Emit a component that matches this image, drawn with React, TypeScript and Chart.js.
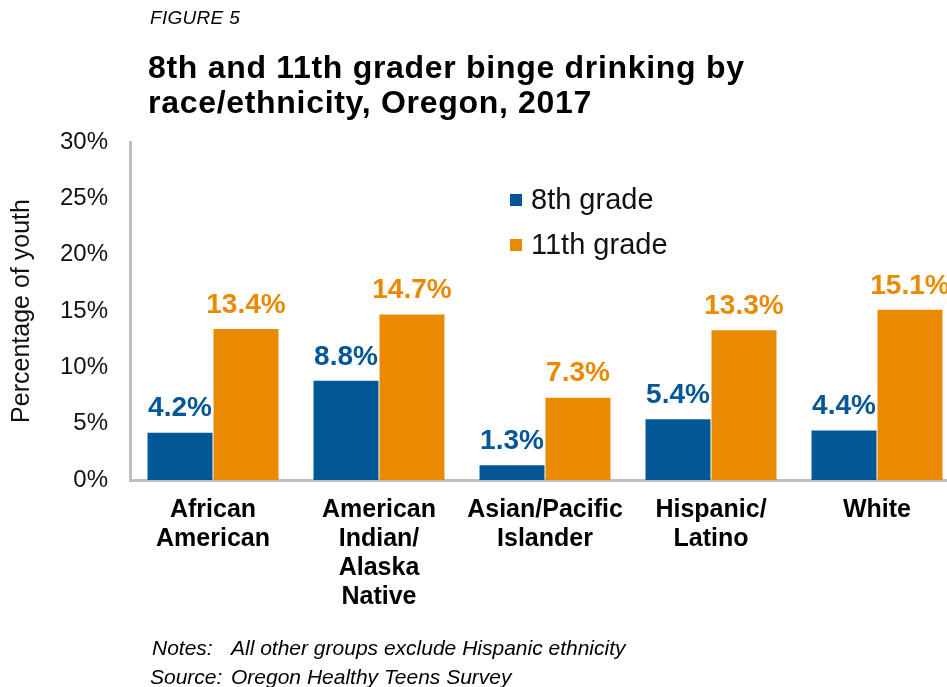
import React, { useEffect, useRef } from "react";
import { Chart, registerables } from "chart.js";

Chart.register(...registerables);

const categories: string[][] = [
  ["African", "American"],
  ["American", "Indian/", "Alaska", "Native"],
  ["Asian/Pacific", "Islander"],
  ["Hispanic/", "Latino"],
  ["White"],
];
const grade8: number[] = [4.2, 8.8, 1.3, 5.4, 4.4];
const grade11: number[] = [13.4, 14.7, 7.3, 13.3, 15.1];
const seriesNames: string[] = ["8th grade", "11th grade"];
const yTicks: number[] = [0, 5, 10, 15, 20, 25, 30];

const BLUE = "#035796";
const ORANGE = "#EA8A03";
const FONT = "'Liberation Sans', Arial, sans-serif";

const dataLabelPlugin = {
  id: "dataLabels",
  afterDatasetsDraw(chart: any) {
    const ctx = chart.ctx;
    ctx.save();
    ctx.font = `bold 28px ${FONT}`;
    ctx.textAlign = "center";
    ctx.textBaseline = "bottom";
    chart.data.datasets.forEach((ds: any, i: number) => {
      const meta = chart.getDatasetMeta(i);
      ctx.fillStyle = ds.backgroundColor;
      meta.data.forEach((el: any, j: number) => {
        ctx.fillText(ds.data[j].toFixed(1) + "%", el.x, el.y - 10);
      });
    });
    ctx.restore();
  },
};

const legendPlugin = {
  id: "customLegend",
  afterDraw(chart: any) {
    const ctx = chart.ctx;
    const area = chart.chartArea;
    ctx.save();
    ctx.font = `29px ${FONT}`;
    ctx.textBaseline = "middle";
    ctx.textAlign = "left";
    chart.data.datasets.forEach((ds: any, i: number) => {
      const x = area.left + 380;
      const y = area.top + 58 + i * 45;
      ctx.fillStyle = ds.backgroundColor;
      ctx.fillRect(x, y - 6, 12, 12);
      ctx.fillStyle = "#111";
      ctx.fillText(ds.label, x + 21, y + 1);
    });
    ctx.restore();
  },
};

export default function App() {
  const ref = useRef<HTMLCanvasElement>(null);
  useEffect(() => {
    if (!ref.current) return;
    const chart = new Chart(ref.current, {
      type: "bar",
      data: {
        labels: categories,
        datasets: [
          { label: seriesNames[0], data: grade8, backgroundColor: BLUE },
          { label: seriesNames[1], data: grade11, backgroundColor: ORANGE },
        ],
      },
      options: {
        responsive: false,
        animation: false,
        devicePixelRatio: 1,
        layout: { padding: { top: 142, right: 20, left: 0, bottom: 0 } },
        datasets: {
          bar: { categoryPercentage: 0.795, barPercentage: 0.985 },
        } as any,
        plugins: {
          legend: { display: false },
          tooltip: { enabled: false },
        },
        scales: {
          x: {
            grid: { display: false, drawTicks: false },
            border: { display: true, color: "#BFBFBF", width: 3 },
            ticks: {
              color: "#000",
              font: { family: FONT, size: 25, weight: "bold", lineHeight: "29px" } as any,
              padding: 16,
              maxRotation: 0,
              autoSkip: false,
            },
            afterFit: (s: any) => {
              s.height = 207;
            },
          },
          y: {
            min: 0,
            max: 30,
            afterBuildTicks: (s: any) => {
              s.ticks = yTicks.map((v) => ({ value: v }));
            },
            grid: { display: false, drawTicks: false },
            border: { display: true, color: "#BFBFBF", width: 3 },
            ticks: {
              color: "#111",
              font: { family: FONT, size: 24 },
              padding: 22,
              callback: (v: any) => v + "%",
            },
            title: {
              display: true,
              text: "Percentage of youth",
              color: "#111",
              font: { family: FONT, size: 25 },
              padding: { top: 7, bottom: 0 },
            },
            afterFit: (s: any) => {
              s.width = 130;
            },
          },
        },
      },
      plugins: [dataLabelPlugin, legendPlugin],
    });
    return () => chart.destroy();
  }, []);

  return (
    <div
      style={{
        position: "fixed",
        left: 0,
        top: 0,
        width: 947,
        height: 687,
        overflow: "hidden",
        background: "#fff",
        fontFamily: FONT,
        color: "#000",
      }}
    >
      <canvas ref={ref} width={980} height={687} style={{ position: "absolute", left: 0, top: 0, width: 980, height: 687 }} />
      <div style={{ position: "absolute", left: 150, top: 6, fontSize: 19, fontStyle: "italic", lineHeight: "24px", letterSpacing: "0.3px" }}>
        FIGURE 5
      </div>
      <div
        style={{
          position: "absolute",
          left: 148,
          top: 50,
          fontSize: 32,
          fontWeight: "bold",
          lineHeight: "35px",
          letterSpacing: "0.7px",
          whiteSpace: "nowrap",
        }}
      >
        8th and 11th grader binge drinking by
        <br />
        race/ethnicity, Oregon, 2017
      </div>
      <div style={{ position: "absolute", left: 152, top: 634, fontSize: 21, fontStyle: "italic", lineHeight: "28px", whiteSpace: "nowrap" }}>
        Notes:
      </div>
      <div style={{ position: "absolute", left: 231, top: 634, fontSize: 21, fontStyle: "italic", lineHeight: "28px", whiteSpace: "nowrap" }}>
        All other groups exclude Hispanic ethnicity
      </div>
      <div style={{ position: "absolute", left: 150, top: 663, fontSize: 21, fontStyle: "italic", lineHeight: "28px", whiteSpace: "nowrap" }}>
        Source:
      </div>
      <div style={{ position: "absolute", left: 231, top: 663, fontSize: 21, fontStyle: "italic", lineHeight: "28px", whiteSpace: "nowrap" }}>
        Oregon Healthy Teens Survey
      </div>
    </div>
  );
}
